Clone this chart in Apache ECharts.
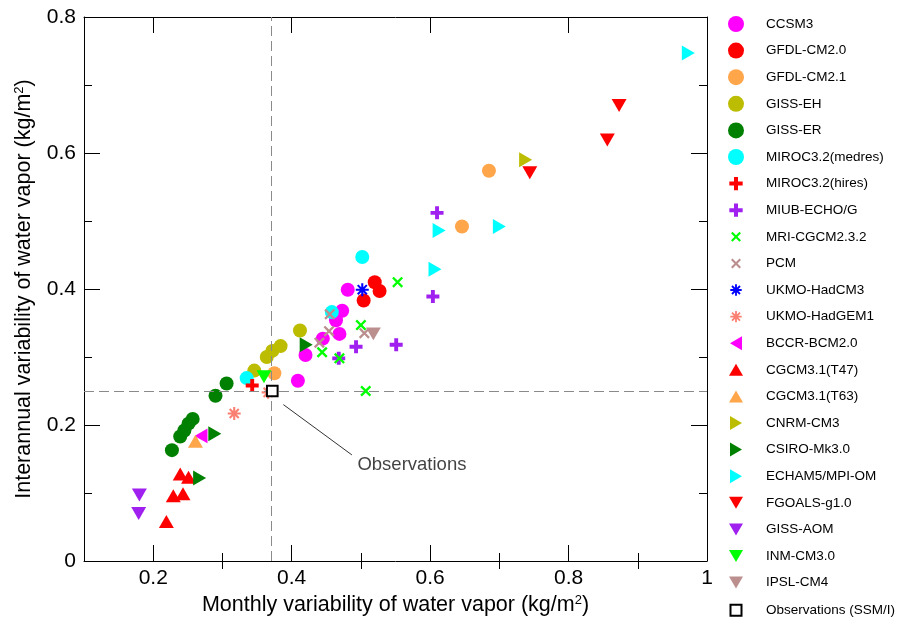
<!DOCTYPE html>
<html><head><meta charset="utf-8">
<script src="https://cdn.jsdelivr.net/npm/echarts@6/dist/echarts.min.js"></script>
<style>html,body{margin:0;padding:0;background:#fff}#c{width:898px;height:619px}</style>
</head><body><div id="c"></div><script>
// ---- data (x = monthly variability, y = interannual variability) ----
const ccsm3     = [[0.481,0.399],[0.473,0.368],[0.464,0.354],[0.469,0.334],[0.445,0.327],[0.420,0.303],[0.409,0.265]];
const gfdlCM20  = [[0.520,0.410],[0.527,0.397],[0.504,0.383]];
const gfdlCM21  = [[0.685,0.574],[0.646,0.492],[0.375,0.276]];
const gissEH    = [[0.412,0.339],[0.384,0.316],[0.372,0.309],[0.364,0.300],[0.346,0.280]];
const gissER    = [[0.306,0.261],[0.290,0.243],[0.257,0.209],[0.251,0.202],[0.245,0.192],[0.239,0.183],[0.227,0.163]];
const mirocMed  = [[0.502,0.447],[0.458,0.366],[0.335,0.269]];
const mirocHi   = [[0.343,0.258]];
const miubEcho  = [[0.610,0.512],[0.604,0.389],[0.551,0.318],[0.493,0.315],[0.468,0.298]];
const mriCgcm   = [[0.553,0.410],[0.500,0.347],[0.444,0.307],[0.469,0.298],[0.507,0.250]];
const pcm       = [[0.455,0.363],[0.454,0.338],[0.440,0.321],[0.505,0.335]];
const ukmoHadCM3  = [[0.502,0.399]];
const ukmoHadGEM1 = [[0.317,0.217],[0.366,0.248]];
const bccr      = [[0.269,0.184]];
const cgcmT47   = [[0.239,0.128],[0.251,0.123],[0.229,0.096],[0.243,0.099],[0.219,0.058]];
const cgcmT63   = [[0.261,0.176]];
const cnrm      = [[0.738,0.590]];
const csiro     = [[0.421,0.318],[0.289,0.187],[0.267,0.122]];
const echam     = [[0.973,0.747],[0.613,0.486],[0.700,0.492],[0.607,0.429]];
const fgoals    = [[0.873,0.670],[0.856,0.619],[0.744,0.571]];
const gissAOM   = [[0.180,0.097],[0.179,0.070]];
const inm       = [[0.360,0.271]];
const ipsl      = [[0.518,0.334]];
const observations = [[0.372,0.250]];
const obsArrow     = [[0.487,0.156],[0.388,0.230]];
const obsLabelPos  = [[0.495,0.142]];
const obsLabelText = 'Observations';

const xTicks = [0.2,0.4,0.6,0.8,1];
const xMinorTicks = [0.3,0.5,0.7,0.9];
const yTicks = [0,0.2,0.4,0.6,0.8];
const yMinorTicks = [0.1,0.3,0.5,0.7];
const xTitle = 'Monthly variability of water vapor (kg/m{sup|2})';
const yTitle = 'Interannual variability of water vapor (kg/m{sup|2})';

// ---- styling ----
const FONT = '"Liberation Sans", Arial, Helvetica, sans-serif';
// symbol paths include invisible moveTo points so the legend icons come out at the reference size
const PLUS  = 'path://M0,0M12,12M4.5,1H7.5V4.5H11V7.5H7.5V11H4.5V7.5H1V4.5H4.5Z';
const XMARK = 'path://M0,0M16,16M3,4.5L4.5,3L8,6.5L11.5,3L13,4.5L9.5,8L13,11.5L11.5,13L8,9.5L4.5,13L3,11.5L6.5,8Z';
const ASTER = 'path://M0,0M14,14M2,6.2H12V7.8H2Z M6.2,2H7.8V12H6.2Z M4.07,2.93L11.07,9.93L9.93,11.07L2.93,4.07Z M9.93,2.93L11.07,4.07L4.07,11.07L2.93,9.93Z';
const T_UP    = 'path://M0,0M16,16M8,2L15,14L1,14Z';
const T_DOWN  = 'path://M0,0M16,16M1,2L15,2L8,14Z';
const T_LEFT  = 'path://M0,0M16,16M14,1L14,15L2,8Z';
const T_RIGHT = 'path://M0,0M16,16M2,1L14,8L2,15Z';
const SQUARE  = 'path://M0,0M16,16M2.5,2.5H13.5V13.5H2.5Z';
const CIRC = 14, PLS = 15.6, XS = 17.6, AST = 18.2, TV = [17.1,17.3], TH = [17.3,17.1], SQ = 15.5;
const defs = [
  ['CCSM3', ccsm3, 'circle', CIRC, '#ff00ff'],
  ['GFDL-CM2.0', gfdlCM20, 'circle', CIRC, '#ff0000'],
  ['GFDL-CM2.1', gfdlCM21, 'circle', CIRC, '#ffa54a'],
  ['GISS-EH', gissEH, 'circle', CIRC, '#bcbc00'],
  ['GISS-ER', gissER, 'circle', CIRC, '#008000'],
  ['MIROC3.2(medres)', mirocMed, 'circle', CIRC, '#00ffff'],
  ['MIROC3.2(hires)', mirocHi, PLUS, PLS, '#ff0000'],
  ['MIUB-ECHO/G', miubEcho, PLUS, PLS, '#a020f0'],
  ['MRI-CGCM2.3.2', mriCgcm, XMARK, XS, '#00ff00'],
  ['PCM', pcm, XMARK, XS, '#bc8f8f'],
  ['UKMO-HadCM3', ukmoHadCM3, ASTER, AST, '#0000ff'],
  ['UKMO-HadGEM1', ukmoHadGEM1, ASTER, AST, '#fa8072'],
  ['BCCR-BCM2.0', bccr, T_LEFT, TH, '#ff00ff'],
  ['CGCM3.1(T47)', cgcmT47, T_UP, TV, '#ff0000'],
  ['CGCM3.1(T63)', cgcmT63, T_UP, TV, '#ffa54a'],
  ['CNRM-CM3', cnrm, T_RIGHT, TH, '#bcbc00'],
  ['CSIRO-Mk3.0', csiro, T_RIGHT, TH, '#008000'],
  ['ECHAM5/MPI-OM', echam, T_RIGHT, TH, '#00ffff'],
  ['FGOALS-g1.0', fgoals, T_DOWN, TV, '#ff0000'],
  ['GISS-AOM', gissAOM, T_DOWN, TV, '#a020f0'],
  ['INM-CM3.0', inm, T_DOWN, TV, '#00ff00'],
  ['IPSL-CM4', ipsl, T_DOWN, TV, '#bc8f8f']
];

const series = [];
// reference dashed lines through the observation
series.push({
  type:'scatter', name:'_ref', data:[], z:1, silent:true,
  markLine:{ silent:true, symbol:['none','none'], animation:false, label:{show:false},
    lineStyle:{color:'#8a8a8a', width:1, type:[10,5]},
    emphasis:{disabled:true},
    data:[{xAxis:observations[0][0]},{yAxis:observations[0][1]}] }
});
defs.forEach(d => series.push({
  type:'scatter', name:d[0], data:d[1], symbol:d[2], symbolSize:d[3],
  itemStyle:{color:d[4], opacity:1}, z:2, silent:true
}));
series.push({
  type:'scatter', name:'Observations (SSM/I)', data:observations, symbol:SQUARE, symbolSize:SQ,
  itemStyle:{color:'#ffffff', borderColor:'#000000', borderWidth:2, opacity:1}, z:5, silent:true
});
// annotation
series.push({
  type:'scatter', name:'_annot', data:obsLabelPos, symbolSize:0.01, z:4, silent:true,
  label:{show:true, position:'right', distance:0, formatter:obsLabelText, fontSize:18.5, color:'#111', fontFamily:FONT},
  markLine:{ silent:true, symbol:['none','arrow'], symbolSize:[0,10], animation:false, label:{show:false},
    lineStyle:{color:'#333', width:1, type:'solid'}, emphasis:{disabled:true},
    data:[[{coord:obsArrow[0]},{coord:obsArrow[1]}]] }
});

const nameStyle = {fontSize:21.5, color:'#000', fontFamily:FONT,
  rich:{sup:{fontSize:13, verticalAlign:'top', color:'#000', fontFamily:FONT}}};
const axLine = {show:true, onZero:false, lineStyle:{color:'#000', width:1}};
function xAxisDef(pos, ticks, len, withLabels, withLine, withName){
  const a = {type:'value', min:0.1, max:1, position:pos, gridIndex:0,
    axisLine: withLine ? axLine : {show:false},
    axisTick:{show:true, inside:true, length:len, customValues:ticks, lineStyle:{color:'#000', width:1}},
    axisLabel:{show:withLabels, customValues:ticks, margin:7, fontSize:21, color:'#000', fontFamily:FONT},
    splitLine:{show:false}};
  if (withName){ Object.assign(a,{name:xTitle, nameLocation:'middle', nameGap:31, nameTextStyle:nameStyle}); }
  return a;
}
function yAxisDef(pos, ticks, len, withLabels, withLine, withName){
  const a = {type:'value', min:0, max:0.8, position:pos, gridIndex:0,
    axisLine: withLine ? axLine : {show:false},
    axisTick:{show:true, inside:true, length:len, customValues:ticks, lineStyle:{color:'#000', width:1}},
    axisLabel:{show:withLabels, customValues:ticks, margin:8, fontSize:21, color:'#000', fontFamily:FONT},
    splitLine:{show:false}};
  if (withName){ Object.assign(a,{name:yTitle, nameLocation:'middle', nameRotate:90, nameGap:49, nameTextStyle:nameStyle}); }
  return a;
}

const legendNames = defs.map(d=>d[0]).concat(['Observations (SSM/I)']);
const chart = echarts.init(document.getElementById('c'), null, {renderer:'canvas'});
chart.setOption({
  animation:false,
  backgroundColor:'#ffffff',
  grid:{left:84, right:191, top:17, bottom:58, containLabel:false, outerBoundsMode:'none'},
  xAxis:[
    xAxisDef('bottom', xTicks, 16, true, true, true),
    xAxisDef('bottom', xMinorTicks, 8, false, false, false),
    xAxisDef('top', xTicks, 16, false, true, false),
    xAxisDef('top', xMinorTicks, 8, false, false, false)
  ],
  yAxis:[
    yAxisDef('left', yTicks, 16, true, true, true),
    yAxisDef('left', yMinorTicks, 8, false, false, false),
    yAxisDef('right', yTicks, 16, false, true, false),
    yAxisDef('right', yMinorTicks, 8, false, false, false)
  ],
  legend:{
    orient:'vertical', left:727, top:16, width:171, height:640, padding:0, itemWidth:16, itemHeight:16, itemGap:10.6,
    data:legendNames, selectedMode:false,
    formatter: n => '{t|' + n + '}',
    textStyle:{fontSize:13.5, color:'#000', fontFamily:FONT, rich:{t:{fontSize:13.5, color:'#000', fontFamily:FONT, padding:[0,0,0,17]}}}
  },
  series: series
});
</script></body></html>
